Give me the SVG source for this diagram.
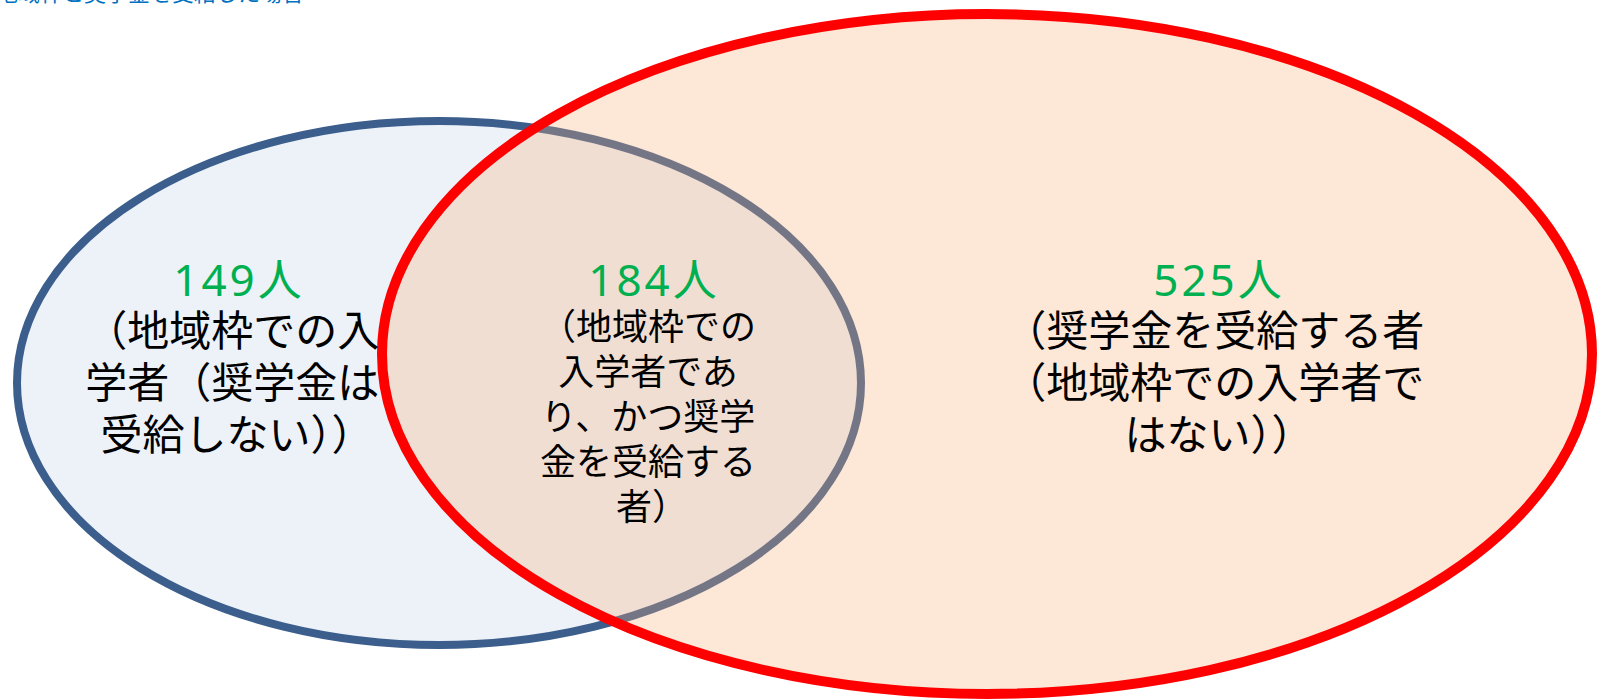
<svg xmlns="http://www.w3.org/2000/svg" width="1598" height="699" viewBox="0 0 1598 699">
  <style>
    .lbl { font-family: "Noto Sans CJK JP", "Noto Sans", sans-serif; fill: #000000; }
    .big { font-size: 42px; }
    .mid { font-size: 36px; }
    .num { font-family: "Noto Sans", "Noto Sans CJK JP", sans-serif; font-size: 44px; fill: #00B050; letter-spacing: 3px; }
    .title { font-family: "Noto Sans CJK JP", sans-serif; font-size: 22px; fill: #0070C0; }
  </style>
  <rect x="0" y="0" width="1598" height="699" fill="#FFFFFF"/>
  <g id="title">
    <text class="title" x="-4" y="1">地域枠と奨学金を受給した場合</text>
  </g>
  <g id="node-local">
    <ellipse cx="439" cy="383" rx="422" ry="262" fill="#EDF2F9" stroke="#3B5E8C" stroke-width="8"/>
  </g>
  <g id="node-scholarship">
    <ellipse cx="987" cy="354" rx="605" ry="340" fill="#F8AF7A" fill-opacity="0.3" stroke="#FF0000" stroke-width="10"/>
  </g>
  <g id="connectors"></g>
  <g id="label-left">
    <text class="num" x="239" y="296" text-anchor="middle">149人</text>
    <text class="lbl big" text-anchor="middle">
      <tspan x="237" y="346">（地域枠での入</tspan>
      <tspan x="237" y="398">学者（奨学金は</tspan>
      <tspan x="237" y="450">受給しない））</tspan>
    </text>
  </g>
  <g id="label-middle">
    <text class="num" x="654" y="296" text-anchor="middle">184人</text>
    <text class="lbl mid" text-anchor="middle">
      <tspan x="652" y="340">（地域枠での</tspan>
      <tspan x="652" y="385">入学者であ</tspan>
      <tspan x="652" y="430">り、かつ奨学</tspan>
      <tspan x="652" y="475">金を受給する</tspan>
      <tspan x="652" y="520">者）</tspan>
    </text>
  </g>
  <g id="label-right">
    <text class="num" x="1219" y="296" text-anchor="middle">525人</text>
    <text class="lbl big" text-anchor="middle">
      <tspan x="1219" y="346">（奨学金を受給する者</tspan>
      <tspan x="1219" y="398">（地域枠での入学者で</tspan>
      <tspan x="1219" y="450">はない））</tspan>
    </text>
  </g>
</svg>
